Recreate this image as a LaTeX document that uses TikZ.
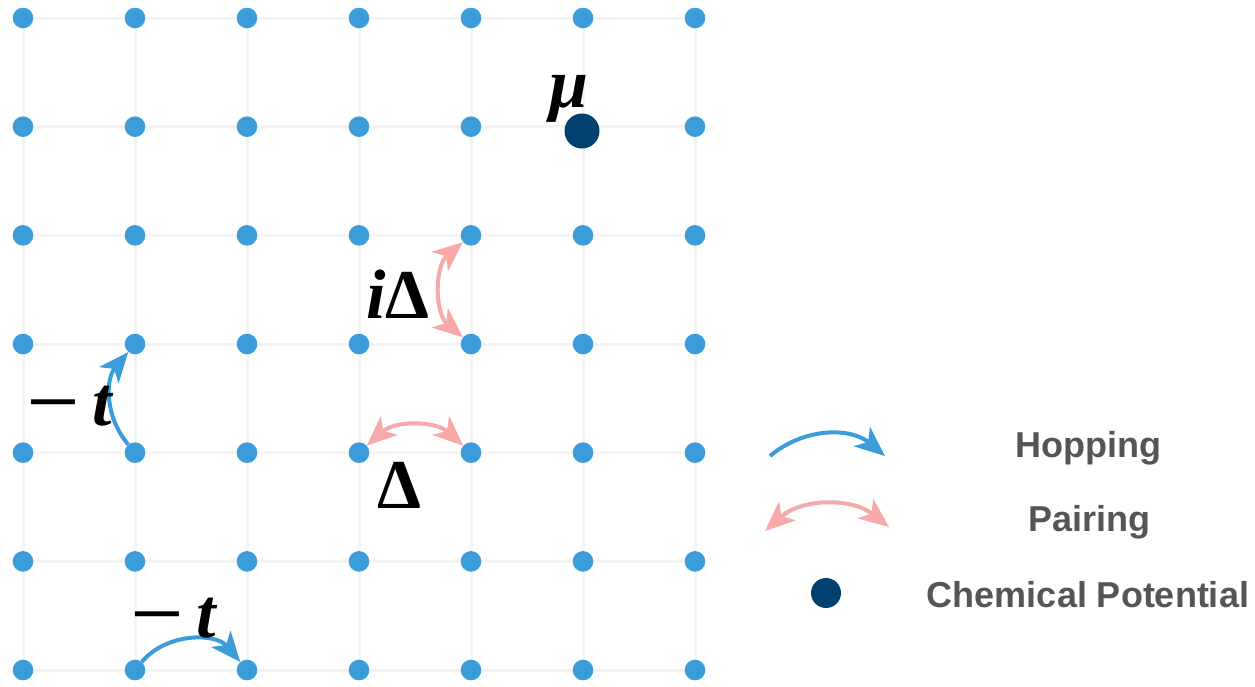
\documentclass[tikz,border=0pt]{standalone}
\usepackage{fontspec}
\usepackage{graphicx}
\setmainfont{Liberation Sans}
\newfontfamily\labfont{Liberation Serif}
\usetikzlibrary{arrows.meta}
\definecolor{dotblue}{HTML}{3A9DDA}
\definecolor{pairpink}{HTML}{F7A9A9}
\definecolor{mudark}{HTML}{00416F}
\definecolor{gridgray}{HTML}{F3F5F3}
\definecolor{legtext}{HTML}{555555}
\tikzset{
  site/.style={circle,fill=dotblue,inner sep=0pt,minimum size=20.6pt},
  mudot/.style={circle,fill=mudark,inner sep=0pt,minimum size=35pt},
  legdot/.style={circle,fill=mudark,inner sep=0pt,minimum size=30pt},
  gridline/.style={draw=gridgray,line width=3pt},
  bigtip/.tip={Stealth[length=30pt,width=25pt,inset=8pt]},
  hop/.style={draw=dotblue,line width=4pt,-bigtip},
  pair/.style={draw=pairpink,line width=4pt,bigtip-bigtip},
  mathlab/.style={font=\labfont\bfseries\fontsize{70}{70}\selectfont,inner sep=0pt,anchor=base},
  legtxt/.style={font=\bfseries\fontsize{36}{36}\selectfont,text=legtext,inner sep=0pt,anchor=base}
}
\newcommand{\longminus}{\scalebox{1.35}[1]{−}}
\begin{document}
\begin{tikzpicture}[x=1pt,y=-1pt]
\useasboundingbox (0,0) rectangle (1255,686);
\fill[white] (0,0) rectangle (1255,686);
% grid lines
\foreach \i in {0,...,6} {
  \draw[gridline] (23+112*\i,18) -- (23+112*\i,670);
  \draw[gridline] (23,18+108.67*\i) -- (695,18+108.67*\i);
}
% sites
\foreach \i in {0,...,6} {
  \foreach \j in {0,...,6} {
    \node[site] (n-\i-\j) at (23+112*\i,18+108.67*\j) {};
  }
}
% chemical potential site
\node[mudot] (mu) at (582,131) {};
\node[mathlab] (mulab) at (569,107) {\itshape μ};
% hopping arrows
\draw[hop] (n-1-4) to[bend left=40] (n-1-3);
\draw[hop] (n-1-6) to[bend left=50] (n-2-6);
\node[mathlab] (tleft) at (69,425) {\longminus\,\itshape t};
\node[mathlab] (tbottom) at (173,637) {\longminus\,\itshape t};
% pairing arrows
\draw[pair] (n-3-4) to[bend left=42] (n-4-4);
\draw[pair] (n-4-2) to[bend right=50] (n-4-3);
\node[mathlab] (dlab) at (399,508) {Δ};
\node[mathlab] (idlab) at (398,318) {\itshape i\upshape Δ};
% legend
\coordinate (hopA) at (770,456);
\coordinate (hopB) at (885,456);
\draw[hop] (hopA) to[bend left=40] (hopB);
\node[legtxt] (hoptext) at (1088,457) {Hopping};
\coordinate (pairA) at (765,531);
\coordinate (pairB) at (889,527);
\draw[pair] (pairA) to[bend left=40] (pairB);
\node[legtxt] (pairtext) at (1089,531) {Pairing};
\node[legdot] (legmu) at (826,593) {};
\node[legtxt] (chemtext) at (1088,607) {Chemical Potential};
\end{tikzpicture}
\end{document}
